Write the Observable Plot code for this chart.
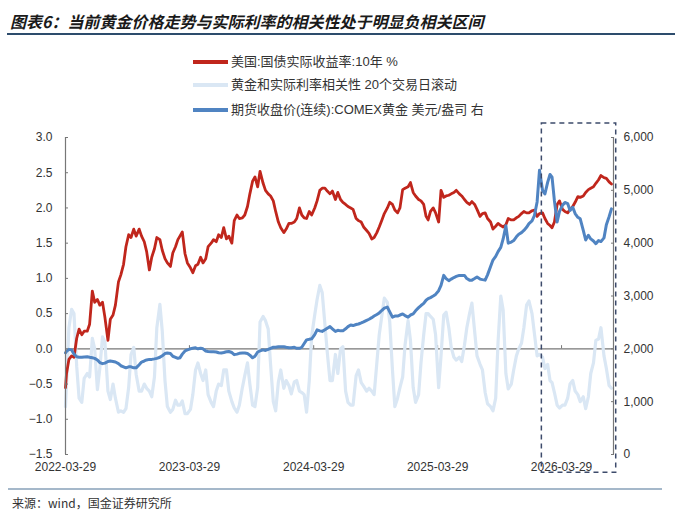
<!DOCTYPE html>
<html>
<head>
<meta charset="utf-8">
<script src="https://cdn.jsdelivr.net/npm/d3@7"></script>
<script src="https://cdn.jsdelivr.net/npm/@observablehq/plot@0.6"></script>
<style>
  body { margin: 0; background: #fff; }
  #wrap { position: relative; width: 680px; height: 522px; overflow: hidden; background: #fff;
          font-family: "Liberation Sans", "Noto Sans CJK SC", sans-serif; }
  #title { position: absolute; left: 10px; top: 12px; line-height: 18px; font-size: 16px; font-weight: bold;
           font-style: italic; font-family: "Noto Sans CJK SC", sans-serif; color: #1a1a1a; white-space: nowrap; }
  #tline { position: absolute; left: 7px; top: 33px; width: 668px; height: 2px; background: #2d4c6c; }
  .lg { position: absolute; left: 193px; height: 16px; line-height: 16px; font-size: 13px; color: #333;
        white-space: nowrap; font-family: "Liberation Sans", "Noto Sans CJK SC", sans-serif; }
  .sw { display: inline-block; width: 35px; height: 4px; vertical-align: middle; margin-right: 3px; position: relative; top: -1px; }
  #chart { position: absolute; left: 0; top: 116px; }
  #fline { position: absolute; left: 8px; top: 488px; width: 654px; height: 2px; background: #a5b8ca; }
  #foot { position: absolute; left: 12px; top: 495px; line-height: 16px; font-size: 12px; color: #333;
          font-family: "Noto Sans CJK SC", sans-serif; white-space: nowrap; }
</style>
</head>
<body>
<div id="wrap">
  <div id="title">图表6：当前黄金价格走势与实际利率的相关性处于明显负相关区间</div>
  <div id="tline"></div>
  <div id="legend"></div>
  <div id="chart"></div>
  <div id="fline"></div>
  <div id="foot">来源：wind，国金证券研究所</div>
</div>
<script>
// ---- series names & colours ----
const seriesNames = ["美国:国债实际收益率:10年 %", "黄金和实际利率相关性 20个交易日滚动", "期货收盘价(连续):COMEX黄金 美元/盎司 右"];
const seriesColors = ["#c0261c", "#dae7f4", "#5084c2"];

// ---- date grid: 2022-03-29, then days 1/8/16/23 of each month from 2022-04 to 2026-08 ----
const startDate = "2022-03-29";
const firstMonth = "2022-04";
const monthCount = 53;
const gridDays = [1, 8, 16, 23];

// ---- US 10Y real yield (%), left axis ----
const realYield = [
  -0.55,
  -0.35, -0.15, -0.10, -0.12,   0.15, 0.28, 0.20, 0.25,   0.25, 0.35, 0.82, 0.66,
  0.70, 0.62, 0.66, 0.45,   0.12, 0.42, 0.48, 0.62,   0.95, 1.05, 1.20, 1.45,
  1.62, 1.58, 1.70, 1.60,   1.70, 1.60, 1.52, 1.38,   1.12, 1.30, 1.42, 1.58,
  1.55, 1.40, 1.28, 1.22,   1.17, 1.36, 1.45, 1.55,   1.60, 1.66, 1.35, 1.22,
  1.15, 1.08, 1.18, 1.20,   1.30, 1.22, 1.28, 1.45,   1.50, 1.55, 1.52, 1.62,
  1.58, 1.72, 1.56, 1.60,   1.50, 1.82, 1.90, 1.85,   1.86, 1.90, 2.02, 2.20,
  2.38, 2.44, 2.30, 2.52,   2.35, 2.25, 2.20, 2.17,   2.10, 1.95, 1.80, 1.72,
  1.65, 1.70, 1.78, 1.78,   1.80, 1.85, 2.00, 1.90,   1.86, 1.85, 1.95, 1.90,
  2.00, 2.10, 2.25, 2.28,   2.28, 2.24, 2.20, 2.24,   2.12, 2.22, 2.12, 2.08,
  2.05, 2.02, 2.00, 1.98,   1.85, 1.82, 1.80, 1.73,   1.68, 1.64, 1.56, 1.58,
  1.65, 1.73, 1.83, 1.92,   2.00, 2.08, 2.05, 1.97,   1.93, 2.00, 2.26, 2.28,
  2.30, 2.36, 2.22, 2.17,   2.12, 2.10, 2.05, 1.88,   1.83, 1.95, 2.00, 1.93,
  1.80, 2.25, 2.15, 2.17,   2.18, 2.20, 2.22, 2.25,   2.20, 2.17, 2.12, 2.08,
  2.05, 2.09, 2.05, 1.98,   1.88, 1.92, 1.93, 1.85,   1.80, 1.70, 1.74, 1.78,
  1.75, 1.73, 1.76, 1.85,   1.83, 1.83, 1.86, 1.88,   1.92, 1.95, 1.93, 1.93,
  1.96, 1.97, 1.88, 1.92,   1.93, 1.85, 1.78, 1.75,   1.72, 1.80, 2.05, 2.10,
  1.98, 1.95, 1.93, 1.98,   2.02, 2.08, 2.16, 2.15,   2.17, 2.22, 2.26, 2.28,
  2.30, 2.35, 2.40, 2.46,   2.43, 2.42, 2.37, 2.34
];

// ---- gold / real-yield rolling 20-day correlation, left axis ----
const correlation = [
  -0.82,
  -0.50, 0.30, 0.56, 0.50,   -0.25, -0.70, -0.76, -0.42,   -0.35, -0.40, 0.15, 0.00,
  -0.58, -0.28, 0.17, 0.10,   -0.60, -0.72, -0.50, -0.70,   -0.90, -0.88, -0.90, -0.85,
  -0.55, -0.08, 0.02, -0.36,   -0.60, -0.60, -0.50, -0.56,   -0.60, -0.68, -0.40, 0.30,
  0.63, 0.25, -0.45, -0.82,   -0.90, -0.86, -0.73, -0.80,   -0.80, -0.74, -0.92, -0.92,
  -0.86, -0.65, -0.30, -0.20,   -0.35, -0.45, -0.30, -0.65,   -0.76, -0.82, -0.60, -0.50,
  -0.52, -0.30, -0.30, -0.60,   -0.75, -0.84, -0.90, -0.80,   -0.55, -0.38, -0.20, -0.50,
  -0.80, -0.82, -0.55, 0.38,   0.46, 0.40, 0.28, -0.22,   -0.75, -0.88, -0.47, -0.30,
  -0.56, -0.45, -0.52, -0.64,   -0.47, -0.45, -0.60, -0.62,   -0.65, -0.90, -0.45, 0.18,
  0.48, 0.70, 0.90, 0.80,   0.35, -0.05, -0.45, -0.45,   -0.08, -0.35, 0.00, 0.03,
  -0.60, -0.76, -0.80, -0.80,   -0.38, -0.30, -0.48, -0.53,   -0.60, -0.56, -0.60, -0.65,
  -0.20, 0.20, 0.48, 0.72,   0.66, 0.38, -0.30, -0.82,   -0.70, -0.55, -0.40, 0.05,
  0.40, 0.12, -0.55, -0.76,   -0.65, -0.20, 0.20, 0.50,   0.50, 0.46, 0.42, 0.20,
  -0.55, -0.10, 0.48, 0.52,   0.30, 0.02, -0.12, -0.16,   -0.12, -0.18, 0.05, 0.30,
  0.50, 0.65, 0.25, -0.10,   -0.22, -0.30, -0.62, -0.78,   -0.82, -0.88, -0.70, 0.10,
  0.75, 0.55, -0.35, -0.57,   -0.50, -0.30, -0.10, 0.00,   0.08, 0.30, 0.62, 0.68,
  0.50, 0.22, -0.10, -0.08,   -0.12, -0.28, -0.22, -0.45,   -0.48, -0.62, -0.80, -0.84,
  -0.80, -0.80, -0.70, -0.50,   -0.45, -0.60, -0.65, -0.75,   -0.68, -0.85, -0.68, -0.35,
  -0.20, 0.12, 0.14, 0.30,   -0.10, -0.28, -0.52, -0.56
];

// ---- COMEX gold continuous futures close (USD/oz), right axis ----
const goldPrice = [
  1924,
  1950, 1990, 1980, 1900,   1850, 1840, 1840, 1845,   1850, 1840, 1830, 1820,
  1790, 1740, 1720, 1730,   1760, 1770, 1760, 1750,   1720, 1680, 1660, 1640,
  1660, 1660, 1640, 1640,   1700, 1750, 1770, 1790,   1800, 1800, 1810, 1820,
  1840, 1870, 1910, 1920,   1910, 1860, 1840, 1820,   1830, 1900, 1960, 1980,
  2000, 2010, 2020, 2000,   2010, 2000, 1960, 1950,   1945, 1945, 1940, 1925,
  1920, 1930, 1945, 1950,   1930, 1890, 1900, 1915,   1920, 1920, 1910, 1880,
  1830, 1860, 1940, 1960,   1980, 1970, 1990, 2010,   2030, 2030, 2040, 2040,
  2040, 2030, 2020, 2020,   2030, 2010, 2010, 2030,   2100, 2170, 2180, 2190,
  2270, 2360, 2340, 2330,   2360, 2390, 2420, 2380,   2330, 2350, 2340, 2340,
  2380, 2420, 2450, 2440,   2460, 2470, 2490, 2510,   2540, 2560, 2590, 2620,
  2650, 2680, 2730, 2770,   2790, 2700, 2600, 2620,   2620, 2640, 2660, 2630,
  2600, 2640, 2660, 2720,   2780, 2820, 2860, 2920,   2950, 2970, 3000, 3030,
  3100, 3200, 3390, 3330,   3290, 3320, 3350, 3370,   3390, 3390, 3390, 3330,
  3300, 3300, 3330, 3360,   3320, 3310, 3300, 3400,   3560, 3680, 3750, 3840,
  3920, 4080, 4330, 4000,   4020, 4050, 4120, 4170,   4200, 4240, 4300, 4370,
  4420, 4520, 4780, 5380,   5000, 4930, 5150, 5300,   5250, 4800, 4400, 4600,
  4720, 4770, 4750, 4620,   4680, 4560, 4490, 4460,   4240, 4060, 4150, 4080,
  4040, 3990, 4050, 4030,   4100, 4350, 4500, 4650
];

// ---- axes ----
const xDomain = ["2022-03-29", "2026-08-29"];
const xTickLabels = ["2022-03-29", "2023-03-29", "2024-03-29", "2025-03-29", "2026-03-29"];
const leftDomain = [-1.5, 3.0];
const leftTicks = [-1.5, -1.0, -0.5, 0.0, 0.5, 1.0, 1.5, 2.0, 2.5, 3.0];
const rightDomain = [0, 6000];
const rightTicks = [0, 1000, 2000, 3000, 4000, 5000, 6000];

// ---- highlighted window (dashed box) ----
const highlight = [{start: "2026-01-30", end: "2026-09-06", low: -1.76, high: 3.2}];

// ---- build ----
const parse = d3.utcParse("%Y-%m-%d");
const m0 = d3.utcParse("%Y-%m")(firstMonth);
const dates = [parse(startDate)];
for (let i = 0; i < monthCount; i++) {
  const m = d3.utcMonth.offset(m0, i);
  for (const d of gridDays) dates.push(new Date(Date.UTC(m.getUTCFullYear(), m.getUTCMonth(), d)));
}
const toLeft = g => leftDomain[0] + (g - rightDomain[0]) / (rightDomain[1] - rightDomain[0]) * (leftDomain[1] - leftDomain[0]);
const fromLeft = v => rightDomain[0] + (v - leftDomain[0]) / (leftDomain[1] - leftDomain[0]) * (rightDomain[1] - rightDomain[0]);

const rows = dates.map((date, i) => ({date, ry: realYield[i], corr: correlation[i], gold: goldPrice[i]}));
const xTicks = xTickLabels.map(parse);
const boxes = highlight.map(h => ({...h, start: parse(h.start), end: parse(h.end)}));

// legend
const legend = document.getElementById("legend");
const legendTops = [54, 77, 102];
seriesNames.forEach((name, i) => {
  const div = document.createElement("div");
  div.className = "lg";
  div.style.top = legendTops[i] + "px";
  div.innerHTML = `<span class="sw" style="background:${seriesColors[i]}"></span>${name}`;
  legend.appendChild(div);
});

const axisColor = "#777";
const chart = Plot.plot({
  width: 680,
  height: 364,
  marginLeft: 65,
  marginRight: 67,
  marginTop: 21,
  marginBottom: 26,
  x: {type: "utc", domain: xDomain.map(parse), label: null},
  y: {domain: leftDomain, label: null},
  style: {fontFamily: "'Liberation Sans', Arial, sans-serif", fontSize: "12px", color: "#333", background: "transparent", overflow: "visible"},
  marks: [
    Plot.ruleY([0], {stroke: axisColor, strokeWidth: 1.2}),
    Plot.ruleX(xTicks, {y1: 0, y2: 0.045, stroke: axisColor}),
    Plot.lineY(rows, {x: "date", y: "corr", stroke: seriesColors[1], strokeWidth: 3.2}),
    Plot.lineY(rows, {x: "date", y: "ry", stroke: seriesColors[0], strokeWidth: 2.8}),
    Plot.lineY(rows, {x: "date", y: d => toLeft(d.gold), stroke: seriesColors[2], strokeWidth: 3}),
    Plot.ruleX([parse(xDomain[0])], {stroke: axisColor, strokeWidth: 1.2}),
    Plot.ruleX([parse(xDomain[1])], {stroke: axisColor, strokeWidth: 1.2}),
    Plot.axisY(leftTicks, {anchor: "left", tickSize: -3, tickPadding: 16, stroke: axisColor, tickFormat: d3.format(".1f"), fill: "#333", label: null}),
    Plot.axisY(rightTicks.map(toLeft), {anchor: "right", tickSize: -3, tickPadding: 13, stroke: axisColor, fill: "#333", label: null,
      tickFormat: v => d3.format(",")(Math.round(fromLeft(v)))}),
    Plot.axisX(xTicks, {anchor: "bottom", tickSize: 0, tickPadding: 8, fill: "#333", label: null, tickFormat: d3.utcFormat("%Y-%m-%d")}),
    Plot.rect(boxes, {x1: "start", x2: "end", y1: "low", y2: "high", fill: "none", stroke: "#3d4b6b", strokeWidth: 1.5, strokeDasharray: "5,4"})
  ]
});
document.getElementById("chart").appendChild(chart);
</script>
</body>
</html>
